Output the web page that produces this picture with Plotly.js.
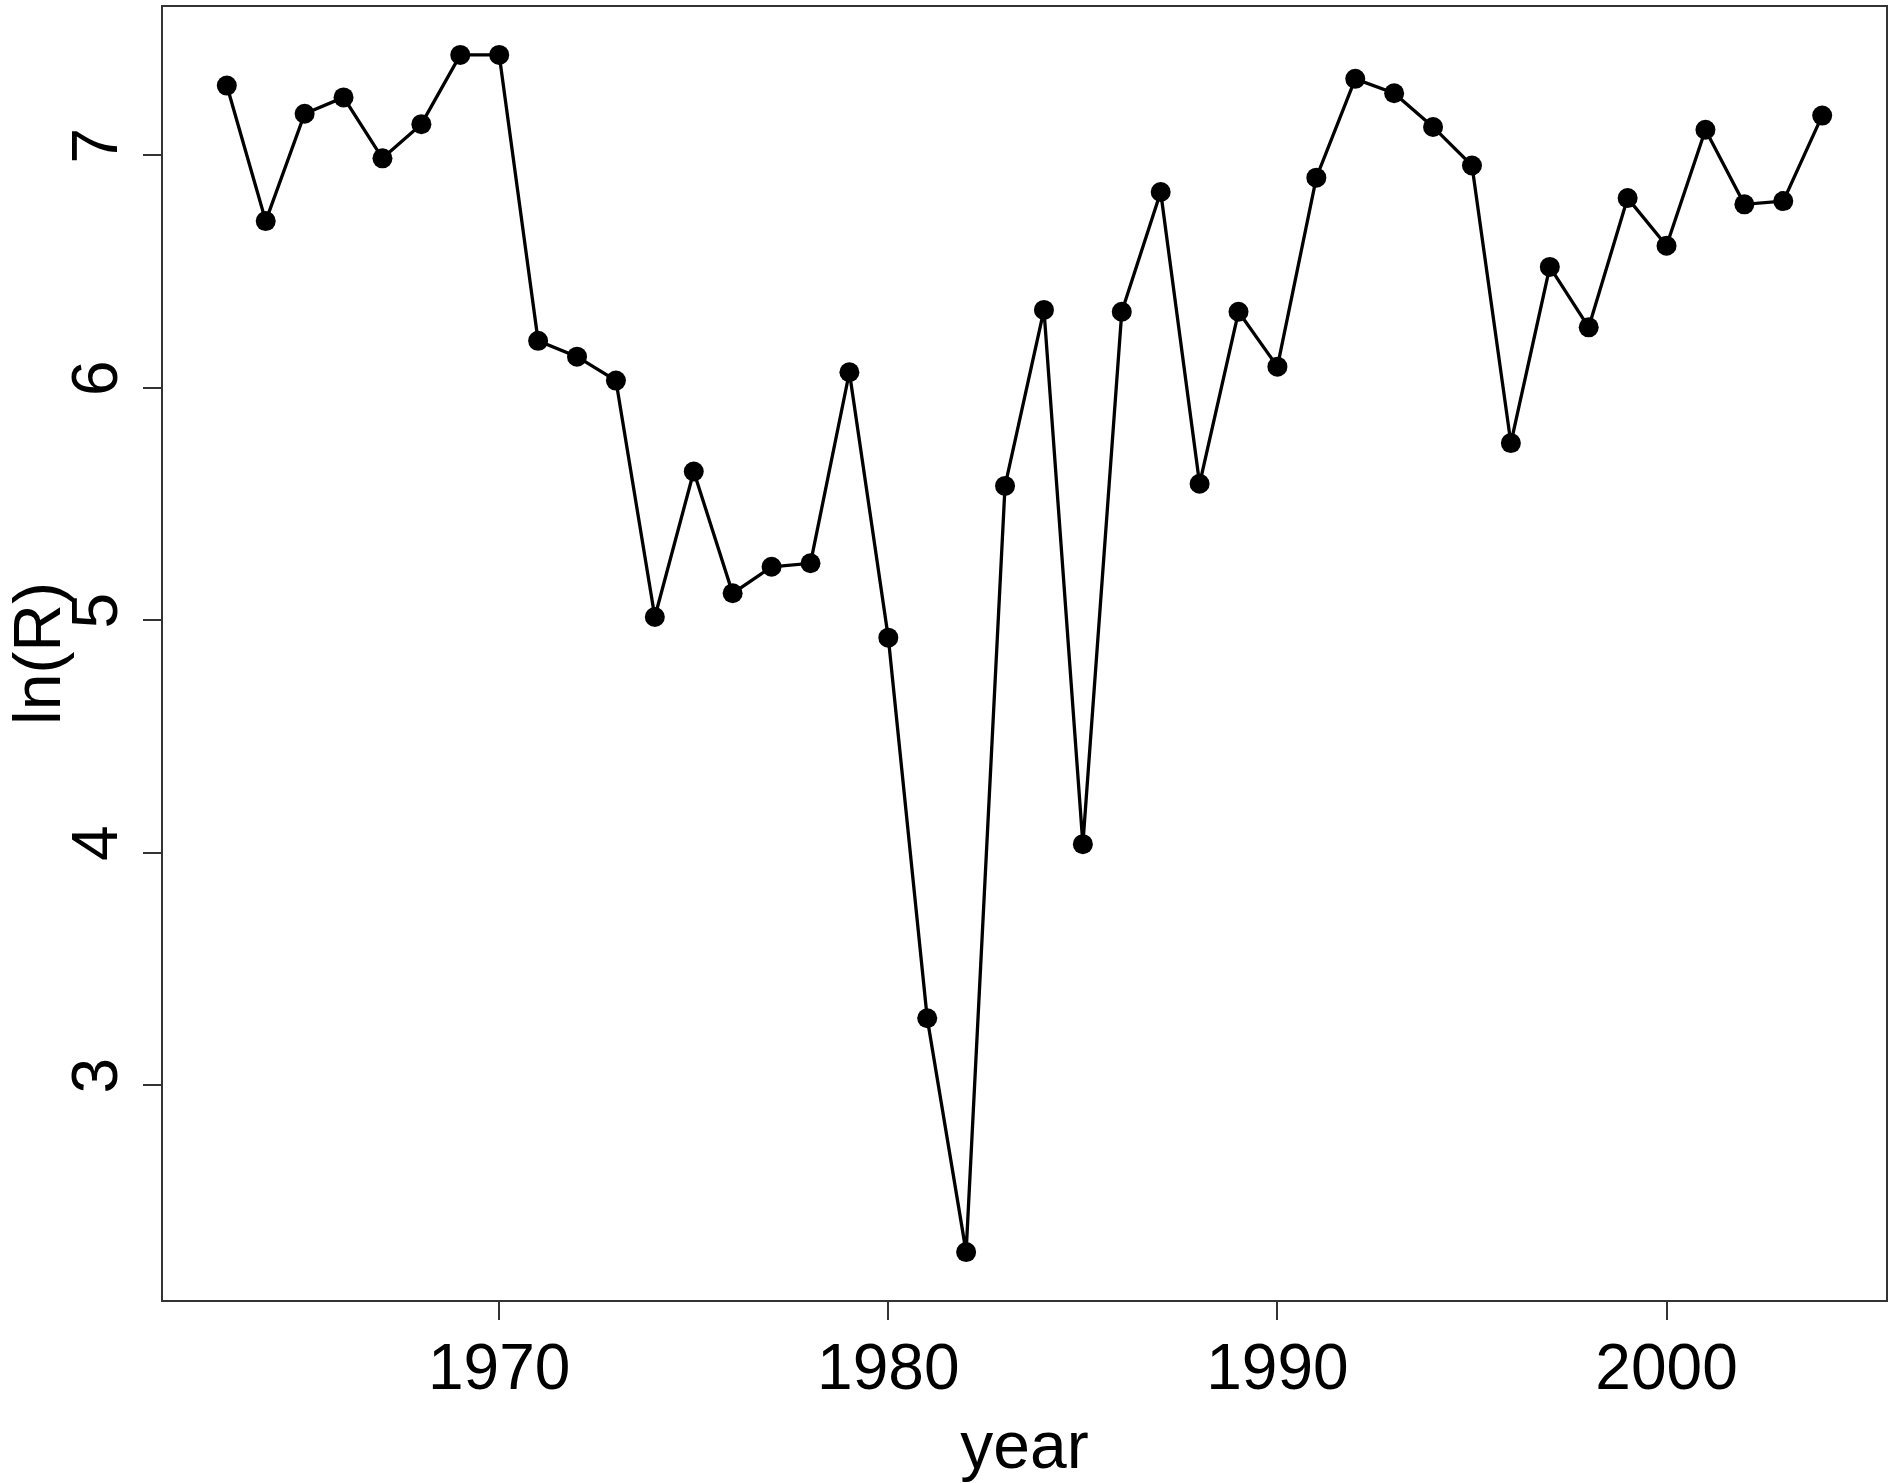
<!DOCTYPE html>
<html>
<head>
<meta charset="utf-8">
<script src="https://cdn.plot.ly/plotly-3.0.1.min.js"></script>
<style>
  html, body { margin: 0; padding: 0; background: #ffffff; }
  #chart { width: 1892px; height: 1483px; }
</style>
</head>
<body>
<div id="chart"></div>
<script>
// Data
const years = [1963, 1964, 1965, 1966, 1967, 1968, 1969, 1970, 1971, 1972,
               1973, 1974, 1975, 1976, 1977, 1978, 1979, 1980, 1981, 1982,
               1983, 1984, 1985, 1986, 1987, 1988, 1989, 1990, 1991, 1992,
               1993, 1994, 1995, 1996, 1997, 1998, 1999, 2000, 2001, 2002,
               2003, 2004];
const lnR = [7.30, 6.717, 7.179, 7.249, 6.987, 7.134, 7.432, 7.432, 6.202, 6.134,
             6.031, 5.014, 5.640, 5.116, 5.230, 5.245, 6.067, 4.925, 3.288, 2.282,
             5.578, 6.335, 4.037, 6.327, 6.842, 5.587, 6.327, 6.091, 6.904, 7.329,
             7.267, 7.122, 6.956, 5.762, 6.520, 6.260, 6.816, 6.611, 7.110, 6.789,
             6.803, 7.171];
const xTickVals = [1970, 1980, 1990, 2000];
const yTickVals = [3, 4, 5, 6, 7];
const xLabel = "year";
const yLabel = "ln(R)";

// R-style 4% axis extension
function extRange(arr) {
  const mn = Math.min(...arr), mx = Math.max(...arr);
  const d = (mx - mn) * 0.04;
  return [mn - d, mx + d];
}

const fontFam = '"Liberation Sans", Arial, Helvetica, sans-serif';

const trace = {
  x: years,
  y: lnR,
  type: 'scatter',
  mode: 'lines+markers',
  line: { color: '#000000', width: 3.3 },
  marker: { color: '#000000', size: 20 },
  showlegend: false,
  hoverinfo: 'x+y'
};

const layout = {
  width: 1892,
  height: 1483,
  paper_bgcolor: '#ffffff',
  plot_bgcolor: '#ffffff',
  margin: { l: 163, r: 6, t: 7, b: 183, pad: 0 },
  font: { family: fontFam, color: '#000000', size: 64 },
  xaxis: {
    range: extRange(years),
    tickmode: 'array',
    tickvals: xTickVals,
    ticktext: xTickVals.map(String),
    ticks: 'outside',
    ticklen: 18,
    tickwidth: 2,
    tickcolor: '#333333',
    ticklabelstandoff: -8,
    showline: true,
    linecolor: '#333333',
    linewidth: 2,
    mirror: true,
    showgrid: false,
    zeroline: false,
    tickfont: { family: fontFam, size: 64, color: '#000000' },
    title: { text: xLabel, font: { family: fontFam, size: 66, color: '#000000' }, standoff: 20 }
  },
  yaxis: {
    range: extRange(lnR),
    tickmode: 'array',
    tickvals: yTickVals,
    ticktext: yTickVals.map(String),
    tickangle: -90,
    ticks: 'outside',
    ticklen: 18,
    tickwidth: 2,
    tickcolor: '#333333',
    showline: true,
    linecolor: '#333333',
    linewidth: 2,
    mirror: true,
    showgrid: false,
    zeroline: false,
    tickfont: { family: fontFam, size: 64, color: '#000000' },
    title: { text: yLabel, font: { family: fontFam, size: 66, color: '#000000' }, standoff: 20 }
  }
};

Plotly.newPlot('chart', [trace], layout, { staticPlot: true, displayModeBar: false });
</script>
</body>
</html>
